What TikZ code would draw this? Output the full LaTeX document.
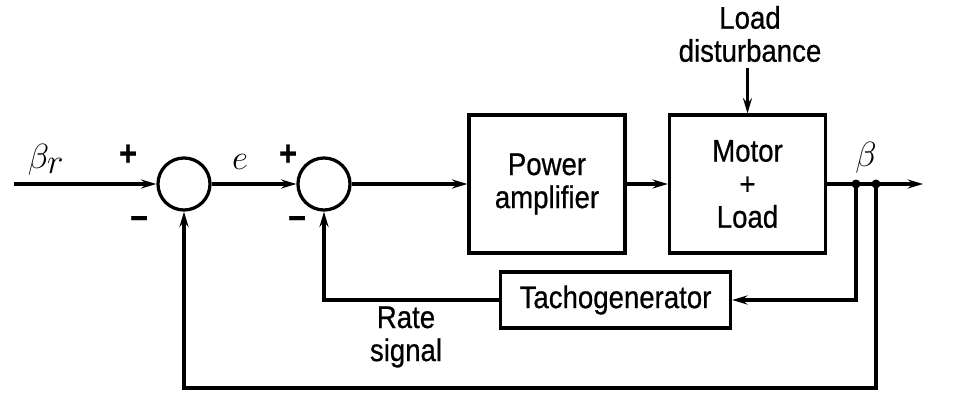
\documentclass[tikz,border=0pt]{standalone}
\usepackage{fontspec}
\setmainfont{Liberation Sans}[FakeStretch=0.88, FakeBold=0.6]
\usetikzlibrary{arrows.meta, positioning}

\begin{document}
\begin{tikzpicture}[
		x=0.025cm, y=-0.025cm,
		>={Stealth[length=11pt, width=6.5pt, inset=4pt]},
		line width=2.3pt,
		labeltext/.style={font=\fontsize{22.3}{23.5}\selectfont, align=center},
		sumjunc/.style={circle, draw, line width=2.3pt, minimum size=1.3cm, inner sep=0pt},
		block/.style={draw, line width=2.3pt, minimum width=3.9cm, minimum height=3.45cm, labeltext},
		sign/.style={font=\fontsize{25}{26}\selectfont\bfseries, inner sep=0pt},
		mathlabel/.style={font=\fontsize{27}{28}\selectfont, inner sep=0pt},
		tap/.style={circle, fill, inner sep=0pt, minimum size=0.2cm}
		]
		
		\useasboundingbox (0,0) rectangle (954,408);
		
		% Summing junctions
		\node[sumjunc] (sum1) at (184,184) {};
		\node[sumjunc] (sum2) at (324,184) {};
		
		% Blocks
		\node[block] (amp) at (547,184) {Power\\amplifier};
		\node[block] (motor) at (747.5,184) {Motor\\+\\Load};
		\node[draw, line width=2.3pt, minimum width=5.75cm, minimum height=1.4cm, labeltext] (tacho) at (615.5,300) {Tachogenerator};
		
		% Input, output and pick-off points
		\coordinate (in) at (14,184);
		\coordinate (out) at (923,184);
		\coordinate (tap1) at (856,184);
		\coordinate (tap2) at (876,184);
		\coordinate (bot) at (876,388);
		
		% Texts
		\node[labeltext] (dist) at (750,34) {Load\\disturbance};
		\node[labeltext] (rate) at (406,337) {Rate\\signal};
		\node[mathlabel] (betar) at (46,160) {$\beta_{\textstyle r}$};
		\node[mathlabel] (beta) at (866,158) {$\beta$};
		\node[mathlabel] (err) at (240,162) {$e$};
		\node[sign] (plus1) at (128,155) {+};
		\node[sign] (minus1) at (139,223) {−};
		\node[sign] (plus2) at (288,155) {+};
		\node[sign] (minus2) at (297,223) {−};
		
		% Forward path
		\draw[->] (in) -- (sum1.west);
		\draw[->] (sum1.east) -- (sum2.west);
		\draw[->] (sum2.east) -- (amp.west);
		\draw[->] (amp.east) -- (motor.west);
		\draw[->] (motor.east) -- (out);
		\draw[->] (motor.north |- dist.south) -- (motor.north);
		
		% Feedback paths
		\draw[->] (tap1) |- (tacho.east);
		\draw[->] (tacho.west) -| (sum2.south);
		\draw[->] (tap2) -- (bot) -| (sum1.south);
		\fill (tap1) circle (4.5);
		\fill (tap2) circle (4.5);
		
\end{tikzpicture}
\end{document}
